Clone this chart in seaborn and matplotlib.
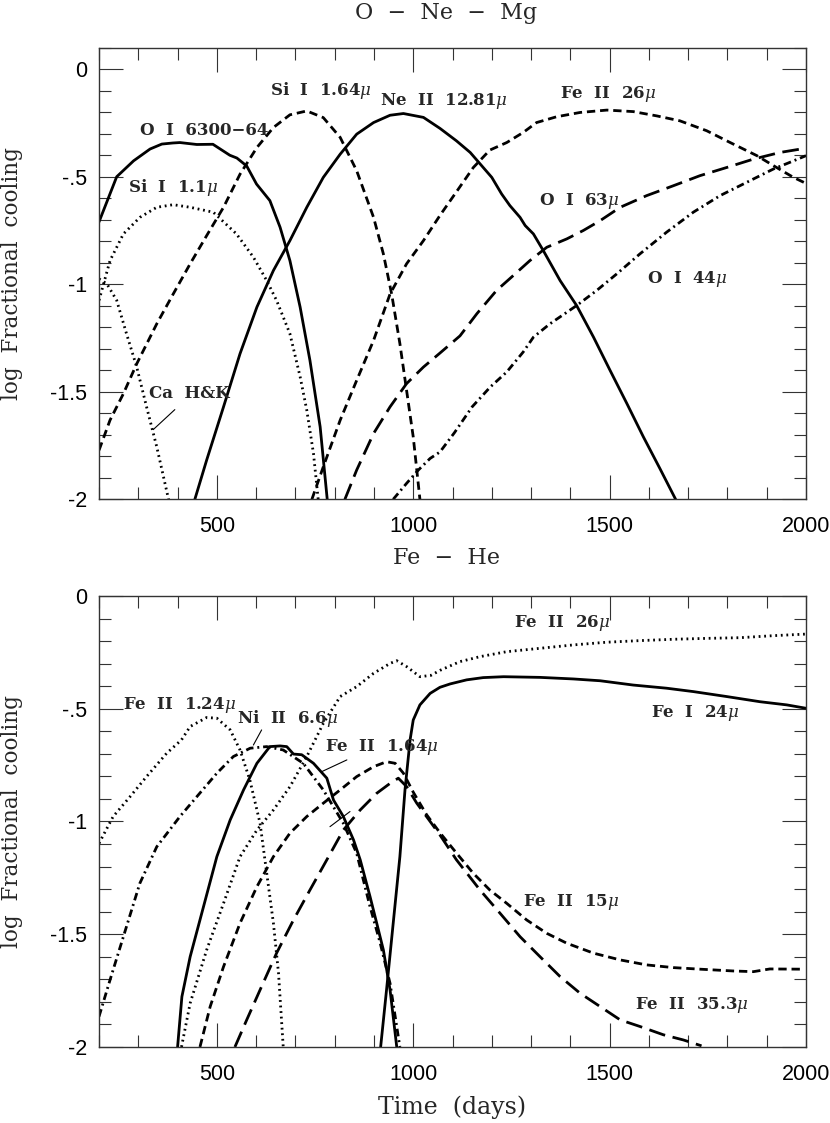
import matplotlib
matplotlib.use("Agg")
import matplotlib.pyplot as plt
from matplotlib.ticker import MultipleLocator
import seaborn as sns


# ---------------- O - Ne - Mg zone (top panel) ----------------
oi6300_t = [200, 245, 288, 330, 360, 388, 406, 449, 490, 533, 551, 576, 601, 635, 661, 686, 712, 737, 763, 781]
oi6300_y = [-0.71, -0.50, -0.426, -0.371, -0.348, -0.343, -0.341, -0.350, -0.349, -0.40, -0.413, -0.45,
            -0.534, -0.611, -0.735, -0.89, -1.106, -1.354, -1.663, -2.0]

sii11_t = [200, 228, 262, 304, 347, 389, 432, 491, 550, 593, 627, 652, 686, 712, 729, 746, 758]
sii11_y = [-1.075, -0.89, -0.766, -0.689, -0.642, -0.63, -0.642, -0.665, -0.766, -0.874, -0.983,
           -1.075, -1.23, -1.43, -1.586, -1.787, -2.0]

cahk_t = [200, 220, 245, 270, 296, 321, 347, 377]
cahk_y = [-0.975, -0.998, -1.075, -1.23, -1.385, -1.57, -1.756, -2.0]

sii164_t = [200, 228, 262, 296, 347, 389, 432, 474, 517, 559, 602, 644, 686, 729, 771, 814, 856,
            899, 924, 945, 966, 983, 1000, 1017]
sii164_y = [-1.772, -1.632, -1.509, -1.37, -1.184, -1.045, -0.905, -0.774, -0.642, -0.488, -0.364,
            -0.271, -0.212, -0.194, -0.225, -0.317, -0.472, -0.689, -0.859, -1.045, -1.276, -1.493,
            -1.71, -2.0]

neii_t = [444, 474, 517, 559, 602, 644, 686, 729, 771, 814, 856, 899, 941, 975, 1026, 1068, 1110,
          1145, 1200, 1225, 1246, 1272, 1285, 1306, 1331, 1374, 1416, 1459, 1501, 1544, 1586, 1628, 1668]
neii_y = [-2.0, -1.818, -1.57, -1.323, -1.106, -0.936, -0.797, -0.642, -0.503, -0.395, -0.302,
          -0.248, -0.214, -0.206, -0.224, -0.275, -0.333, -0.387, -0.503, -0.58, -0.634, -0.689,
          -0.727, -0.766, -0.843, -0.983, -1.099, -1.246, -1.4, -1.555, -1.71, -1.857, -2.0]

feii26a_t = [742, 771, 814, 856, 899, 941, 983, 1026, 1068, 1110, 1153, 1195, 1238, 1280, 1314,
             1365, 1425, 1493, 1560, 1620, 1679, 1747, 1807, 1875, 1925, 1968, 2000]
feii26a_y = [-2.0, -1.849, -1.632, -1.447, -1.261, -1.045, -0.905, -0.797, -0.68, -0.57, -0.457,
             -0.376, -0.341, -0.294, -0.248, -0.221, -0.201, -0.19, -0.197, -0.217, -0.24, -0.286,
             -0.341, -0.402, -0.457, -0.503, -0.531]

oi63_t = [826, 856, 899, 941, 983, 1026, 1068, 1119, 1162, 1212, 1255, 1297, 1340, 1391, 1433,
          1476, 1527, 1594, 1662, 1730, 1798, 1866, 1934, 2000]
oi63_y = [-2.0, -1.864, -1.694, -1.57, -1.462, -1.385, -1.32, -1.24, -1.137, -1.029, -0.959,
          -0.89, -0.828, -0.789, -0.75, -0.704, -0.642, -0.588, -0.542, -0.495, -0.457, -0.418,
          -0.387, -0.367]

oi44_t = [949, 983, 1013, 1043, 1068, 1105, 1150, 1196, 1238, 1280, 1306, 1348, 1416, 1467, 1518,
          1577, 1645, 1713, 1781, 1849, 1917, 1959, 2000]
oi44_y = [-2.0, -1.926, -1.864, -1.81, -1.78, -1.69, -1.57, -1.478, -1.408, -1.315, -1.246,
          -1.184, -1.099, -1.029, -0.952, -0.859, -0.758, -0.665, -0.588, -0.526, -0.464, -0.433,
          -0.402]

# ---------------- Fe - He zone (bottom panel) ----------------
feii124_t = [200, 236, 279, 321, 372, 410, 432, 474, 500, 534, 559, 584, 610, 627, 644, 657, 669]
feii124_y = [-1.097, -0.978, -0.89, -0.801, -0.698, -0.638, -0.579, -0.539, -0.542, -0.594,
             -0.683, -0.816, -1.008, -1.23, -1.451, -1.673, -2.0]

feii26b_t = [410, 432, 474, 517, 559, 602, 644, 686, 729, 771, 814, 856, 899, 941, 958, 983, 1017,
             1045, 1068, 1094, 1119, 1145, 1170, 1238, 1323, 1408, 1493, 1577, 1662, 1747, 1832,
             1917, 2000]
feii26b_y = [-2.0, -1.806, -1.57, -1.363, -1.156, -1.038, -0.949, -0.846, -0.712, -0.565, -0.446,
             -0.402, -0.343, -0.299, -0.287, -0.313, -0.358, -0.352, -0.33, -0.31, -0.291, -0.28,
             -0.269, -0.247, -0.232, -0.217, -0.205, -0.198, -0.192, -0.188, -0.185, -0.176, -0.169]

niii_t = [200, 228, 262, 304, 347, 406, 449, 500, 542, 585, 627, 669, 720, 771, 822, 856, 890,
          916, 941, 966]
niii_y = [-1.865, -1.703, -1.511, -1.274, -1.112, -0.978, -0.89, -0.786, -0.712, -0.675, -0.668,
          -0.683, -0.742, -0.86, -1.008, -1.141, -1.378, -1.54, -1.718, -2.0]

feii164_t = [400, 411, 432, 466, 500, 534, 568, 602, 635, 661, 678, 695, 716, 746, 780, 797, 822,
             848, 865, 890, 907, 924, 941, 958]
feii164_y = [-2.0, -1.777, -1.6, -1.378, -1.156, -0.993, -0.86, -0.742, -0.668, -0.665, -0.668,
             -0.701, -0.704, -0.742, -0.808, -0.905, -0.978, -1.082, -1.17, -1.333, -1.451, -1.57,
             -1.747, -2.0]

fei24_t = [917, 932, 949, 966, 979, 992, 1000, 1017, 1043, 1068, 1094, 1136, 1178, 1230, 1323,
           1408, 1476, 1560, 1645, 1713, 1798, 1883, 1951, 2000]
fei24_y = [-2.0, -1.747, -1.451, -1.156, -0.86, -0.638, -0.55, -0.483, -0.432, -0.405, -0.39,
           -0.372, -0.362, -0.358, -0.361, -0.368, -0.376, -0.395, -0.409, -0.424, -0.446, -0.469,
           -0.483, -0.498]

feii15_t = [457, 483, 517, 559, 602, 644, 686, 729, 771, 814, 856, 899, 932, 954, 975, 1000, 1034,
            1068, 1110, 1153, 1195, 1238, 1289, 1340, 1391, 1459, 1527, 1594, 1662, 1730, 1815,
            1866, 1908, 1990]
feii15_y = [-2.0, -1.821, -1.644, -1.451, -1.289, -1.156, -1.052, -0.978, -0.919, -0.86, -0.801,
            -0.757, -0.735, -0.742, -0.786, -0.87, -0.97, -1.05, -1.14, -1.23, -1.304, -1.363,
            -1.437, -1.496, -1.54, -1.584, -1.614, -1.636, -1.648, -1.655, -1.663, -1.666, -1.654,
            -1.655]

feii353_t = [546, 576, 610, 652, 695, 737, 780, 822, 865, 907, 941, 962, 983, 1009, 1043, 1068,
             1110, 1170, 1221, 1272, 1323, 1374, 1425, 1476, 1527, 1577, 1637, 1688, 1734]
feii353_y = [-2.0, -1.88, -1.747, -1.584, -1.437, -1.304, -1.17, -1.038, -0.949, -0.875, -0.831,
             -0.808, -0.845, -0.919, -1.0, -1.06, -1.17, -1.304, -1.407, -1.511, -1.6, -1.688,
             -1.762, -1.821, -1.88, -1.909, -1.946, -1.969, -1.995]

# axis ticks
x_major = [500, 1000, 1500, 2000]
y_major = [0, -0.5, -1, -1.5, -2]
y_ticklabels = ["0", "-.5", "-1", "-1.5", "-2"]

# line styles (points)
SOLID = "-"
SHORT = (0, (6, 3.5))
LONG = (0, (12, 5.5))
DOT = (0, (1.3, 2.7))
DASHDOT = (0, (5.5, 2.8, 1.4, 2.8))

sns.set_theme(style="ticks")
plt.rcParams["font.family"] = ["DejaVu Serif"]
plt.rcParams["mathtext.fontset"] = "dejavuserif"
plt.rcParams["lines.scale_dashes"] = False


def style_axes(ax, ylim):
    ax.set_xlim(200, 2000)
    ax.set_ylim(*ylim)
    ax.set_xticks(x_major)
    ax.set_yticks(y_major)
    ax.set_yticklabels(y_ticklabels)
    ax.xaxis.set_minor_locator(MultipleLocator(100))
    ax.yaxis.set_minor_locator(MultipleLocator(0.1))
    ax.tick_params(which="both", direction="in", top=True, right=True, color="#333333", width=0.8)
    ax.tick_params(which="major", length=17)
    ax.tick_params(which="minor", length=8.5)
    ax.tick_params(axis="x", which="major", pad=12)
    ax.tick_params(axis="y", which="major", pad=8.5)
    for lab in ax.get_xticklabels() + ax.get_yticklabels():
        lab.set_family("Liberation Sans")
        lab.set_fontsize(15.5)
        lab.set_color("black")
    for sp in ax.spines.values():
        sp.set_linewidth(1.0)
        sp.set_color("#333333")
    ax.set_ylabel("log  Fractional  cooling", fontsize=15.5)
    ax.yaxis.set_label_coords(-0.108, 0.5)


def curve(ax, t, y, ls):
    sns.lineplot(x=t, y=y, ax=ax, color="black", linewidth=2.0, linestyle=ls,
                 estimator=None, sort=False)


def label(ax, x, y, s):
    ax.text(x, y, s, fontsize=12, fontweight="bold", ha="center", va="center")


fig = plt.figure(figsize=(8.3, 11.23), dpi=100)
ax1 = fig.add_axes([0.1193, 0.5554, 0.8518, 0.4021])
ax2 = fig.add_axes([0.1193, 0.0677, 0.8518, 0.4016])

# top panel
curve(ax1, oi6300_t, oi6300_y, SOLID)
curve(ax1, sii11_t, sii11_y, DOT)
curve(ax1, cahk_t, cahk_y, DOT)
curve(ax1, sii164_t, sii164_y, SHORT)
curve(ax1, neii_t, neii_y, SOLID)
curve(ax1, feii26a_t, feii26a_y, SHORT)
curve(ax1, oi63_t, oi63_y, LONG)
curve(ax1, oi44_t, oi44_y, DASHDOT)
ax1.plot([393, 338], [-1.583, -1.676], color="black", lw=0.8)

label(ax1, 764, -0.098, r"Si  I  1.64$\mu$")
label(ax1, 1077, -0.147, r"Ne  II  12.81$\mu$")
label(ax1, 1497, -0.116, r"Fe  II  26$\mu$")
label(ax1, 467, -0.286, "O  I  6300\u221264")
label(ax1, 389, -0.549, r"Si  I  1.1$\mu$")
label(ax1, 429, -1.509, "Ca  H&K")
label(ax1, 1422, -0.611, r"O  I  63$\mu$")
label(ax1, 1698, -0.975, r"O  I  44$\mu$")
style_axes(ax1, (-2, 0.1))
ax1.text(0.4908, 1.0768, "O  \u2212  Ne  \u2212  Mg", transform=ax1.transAxes,
         ha="center", va="center", fontsize=16)

# bottom panel
curve(ax2, feii124_t, feii124_y, DOT)
curve(ax2, feii26b_t, feii26b_y, DOT)
curve(ax2, niii_t, niii_y, DASHDOT)
curve(ax2, feii164_t, feii164_y, SOLID)
curve(ax2, fei24_t, fei24_y, SOLID)
curve(ax2, feii15_t, feii15_y, SHORT)
curve(ax2, feii353_t, feii353_y, LONG)
ax2.plot([614, 593], [-0.594, -0.661], color="black", lw=0.8)
ax2.plot([831, 767], [-0.727, -0.779], color="black", lw=0.8)
ax2.plot([788, 839], [-1.023, -0.956], color="black", lw=0.8)

label(ax2, 406, -0.483, r"Fe  II  1.24$\mu$")
label(ax2, 679, -0.542, r"Ni  II  6.6$\mu$")
label(ax2, 921, -0.668, r"Fe  II  1.64$\mu$")
label(ax2, 1378, -0.121, r"Fe  II  26$\mu$")
label(ax2, 1717, -0.52, r"Fe  I  24$\mu$")
label(ax2, 1403, -1.355, r"Fe  II  15$\mu$")
label(ax2, 1709, -1.814, r"Fe  II  35.3$\mu$")
style_axes(ax2, (-2, 0))
ax2.text(0.4908, 1.0831, "Fe  \u2212  He", transform=ax2.transAxes,
         ha="center", va="center", fontsize=16)
ax2.set_xlabel("Time  (days)", fontsize=17)
ax2.xaxis.set_label_coords(0.5, -0.108)

fig.savefig("out.png", dpi=100)
plt.close(fig)
